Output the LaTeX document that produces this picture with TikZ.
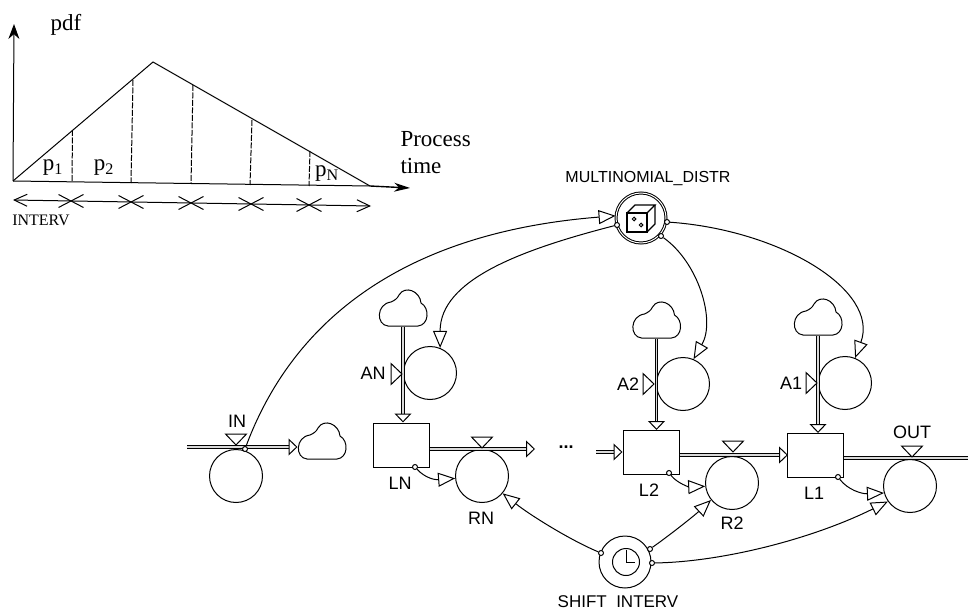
\documentclass[tikz,border=0pt]{standalone}
\usepackage{fontspec}
\setmainfont{Liberation Serif}
\setsansfont{Liberation Sans}
\usetikzlibrary{arrows.meta,shapes.misc}
\tikzset{
    conv/.style={circle,draw,minimum size=53pt,inner sep=0pt},
    stock/.style={draw,minimum width=56pt,minimum height=44pt,inner sep=0pt},
    port/.style={circle,draw,fill=white,minimum size=5pt,inner sep=0pt},
    lab/.style={font=\fontsize{18}{18}\selectfont\sffamily,inner sep=0pt},
    smalllab/.style={font=\fontsize{16}{16}\selectfont\sffamily,inner sep=0pt},
    serif/.style={font=\fontsize{23}{27}\selectfont,inner sep=0pt},
    xmark/.style={cross out,draw,minimum width=24pt,minimum height=12pt,inner sep=0pt},
    link/.style={-{Triangle[open,length=17pt,width=14pt]}},
    flow/.style={double=gray!30,double distance=1.2pt,line width=1pt,-{Triangle[open,fill=white,length=9pt,width=17pt]}},
    flowend/.style={double=gray!30,double distance=1.2pt,line width=1pt},
    cutline/.style={dash pattern=on 6pt off 1.5pt},
    cloudpic/.pic={
        \node[minimum width=48pt,minimum height=36pt,inner sep=0pt] (-box) {};
        \draw (-15,18) -- (15,18) .. controls (26,17) and (27,0) .. (18,-5) .. controls (17,-17) and (2,-23) .. (-4,-13) .. controls (-6,-9) and (-8,-8) .. (-12,-6) .. controls (-27,-4) and (-27,17) .. (-15,18) -- cycle;
    },
    valvedown/.pic={\draw (-10.5,-11) -- (10.5,-11) -- (0,0) -- cycle;},
    valveright/.pic={\draw (-11,-10.5) -- (-11,10.5) -- (0,0) -- cycle;}
}
\begin{document}
\begin{tikzpicture}[x=1pt,y=-1pt,line width=1pt]
        \useasboundingbox (0,0) rectangle (968,612);

        \coordinate (origin) at (13,181);
        \coordinate (ytop) at (14,24);
        \coordinate (peak) at (153,62);
        \coordinate (tail) at (370,186);
        \coordinate (xend) at (410,188);
        \draw[-{Stealth[length=15pt,width=11pt]}] (origin) -- (ytop);
        \draw (origin) -- (peak) -- (tail);
        \draw (origin) -- (tail);
        \draw[line width=1.4pt,-{Stealth[length=16pt,width=9pt]}] (tail) -- (xend);
        \draw[cutline] (72.5,130) -- (72,182);
        \draw[cutline] (133,80) -- (131,183);
        \draw[cutline] (193,85) -- (191,184);
        \draw[cutline] (252,120) -- (250,185);
        \draw[cutline] (310,151) -- (309,186);

        \coordinate (ivstart) at (13,200);
        \coordinate (ivend) at (371,206);
        \draw[{Straight Barb[length=13pt,width=12pt]}-{Straight Barb[length=13pt,width=12pt]}] (ivstart) -- (ivend);
        \node[xmark] (x1) at (71,201) {};
        \node[xmark] (x2) at (131,202) {};
        \node[xmark] (x3) at (191,203) {};
        \node[xmark] (x4) at (251,204) {};
        \node[xmark] (x5) at (309,205) {};

        \node[serif] (pdflab) at (66,25) {pdf};
        \node[serif,align=left,anchor=north west] (timelab) at (400,131) {Process\\time};
        \node[serif] (p1lab) at (53,168) {p\textsubscript{1}};
        \node[serif] (p2lab) at (104,168) {p\textsubscript{2}};
        \node[serif] (pnlab) at (327,174) {p\textsubscript{N}};
        \node[inner sep=0pt,font=\fontsize{16}{16}\selectfont] (intervlab) at (41,220) {INTERV};

        \node[conv] (in) at (236,476) {};
        \node[conv] (an) at (430,373) {};
        \node[conv] (rn) at (482,476) {};
        \node[conv] (a2) at (683,384) {};
        \node[conv] (r2) at (732,483) {};
        \node[conv] (a1) at (845,383) {};
        \node[conv] (out) at (910,486) {};
        \node[stock] (ln) at (401,445) {};
        \node[stock] (l2) at (651,452.5) {};
        \node[stock] (l1) at (815.5,455.5) {};
        \node[circle,draw,double,double distance=1pt,minimum size=50pt,inner sep=0pt] (multi) at (641,218) {};
        \node[circle,draw,minimum size=52pt,inner sep=0pt] (shift) at (625,562) {};
        \node[circle,draw,minimum size=27pt,inner sep=0pt] (clock) at (626,562) {};
        \draw (626,550) -- (clock.center) -- (635,562);
        \draw[line width=1.2pt] (627,213) rectangle (647,232);
        \draw[line width=1.2pt] (627,213) -- (635,205) -- (655,205) -- (647,213);
        \draw[line width=1.2pt] (655,205) -- (655,224) -- (647,232);
        \draw (634,219) circle (1.8);
        \draw (641,225) circle (1.8);

        \pic (cin) at (322,441) {cloudpic};
        \pic (can) at (403,308) {cloudpic};
        \pic (ca2) at (656.5,320) {cloudpic};
        \pic (ca1) at (818,317) {cloudpic};

        \coordinate (inflow) at (187,447);
        \coordinate (rnflow) at (535,449);
        \coordinate (l2flow) at (596,452);
        \coordinate (l1flow) at (788,455);
        \coordinate (outflow) at (968,458);
        \draw[flow] (inflow) -- (inflow -| cin-box.west);
        \draw[flow] (can-box.south) -- (can-box.south |- ln.north);
        \draw[flow] (ca2-box.south) -- (ca2-box.south |- l2.north);
        \draw[flow] (ca1-box.south) -- (ca1-box.south |- l1.north);
        \draw[flow] (ln.east |- rnflow) -- (rnflow);
        \draw[flow] (l2flow) -- (l2flow -| l2.west);
        \draw[flow] (l2.east |- l1flow) -- (l1flow);
        \draw[flowend] (l1.east |- outflow) -- (outflow);

        \pic at (236,445) {valvedown};
        \pic at (482,448) {valvedown};
        \pic at (733,452) {valvedown};
        \pic at (912,457) {valvedown};
        \pic at (402,374) {valveright};
        \pic at (654,384) {valveright};
        \pic at (817,383) {valveright};

        \node[port] (inport) at (245,449) {};
        \node[port] (lnport) at (415,467) {};
        \node[port] (l2port) at (669,473) {};
        \node[port] (l1port) at (838,477) {};
        \node[port] (multiw) at (617,225) {};
        \node[port] (multis) at (661,236) {};
        \node[port] (multie) at (667,222) {};
        \node[port] (shiftw) at (601,553) {};
        \node[port] (shiftn) at (650,549) {};
        \node[port] (shifte) at (652,563) {};

        \draw[link] (inport) .. controls (295,315) and (410,232) .. (multi.175);
        \draw[link] (multiw) .. controls (520,250) and (440,280) .. (an.68);
        \draw[link] (multis) .. controls (698,262) and (716,320) .. (a2.67);
        \draw[link] (multie) .. controls (780,230) and (880,290) .. (a1.68);
        \draw[link] (lnport) .. controls (425,478) and (435,480) .. (rn.185);
        \draw[link] (l2port) .. controls (678,484) and (690,487) .. (r2.187);
        \draw[link] (l1port) .. controls (848,490) and (862,494) .. (out.195);
        \draw[link] (shiftw) .. controls (570,540) and (530,515) .. (rn.-40);
        \draw[link] (shiftn) .. controls (670,535) and (695,515) .. (r2.219);
        \draw[link] (shifte) .. controls (720,562) and (810,540) .. (out.215);

        \node[smalllab] (multilab) at (648,179) {MULTINOMIAL\_DISTR};
        \node[smalllab,font=\fontsize{17}{17}\selectfont\sffamily] (shiftlab) at (618,602) {SHIFT\ \ INTERV};
        \node[lab] (inlab) at (237,421) {IN};
        \node[lab] (anlab) at (373,373) {AN};
        \node[lab] (lnlab) at (400,483) {LN};
        \node[lab] (rnlab) at (481,518) {RN};
        \node[lab] (a2lab) at (628,384) {A2};
        \node[lab] (l2lab) at (649,490) {L2};
        \node[lab] (r2lab) at (732,523) {R2};
        \node[lab] (a1lab) at (791,383) {A1};
        \node[lab] (l1lab) at (814,493) {L1};
        \node[lab] (outlab) at (912,432) {OUT};
        \node[lab,font=\fontsize{18}{18}\selectfont\bfseries\sffamily] (dotslab) at (566,447) {...};
    \end{tikzpicture}
\end{document}
